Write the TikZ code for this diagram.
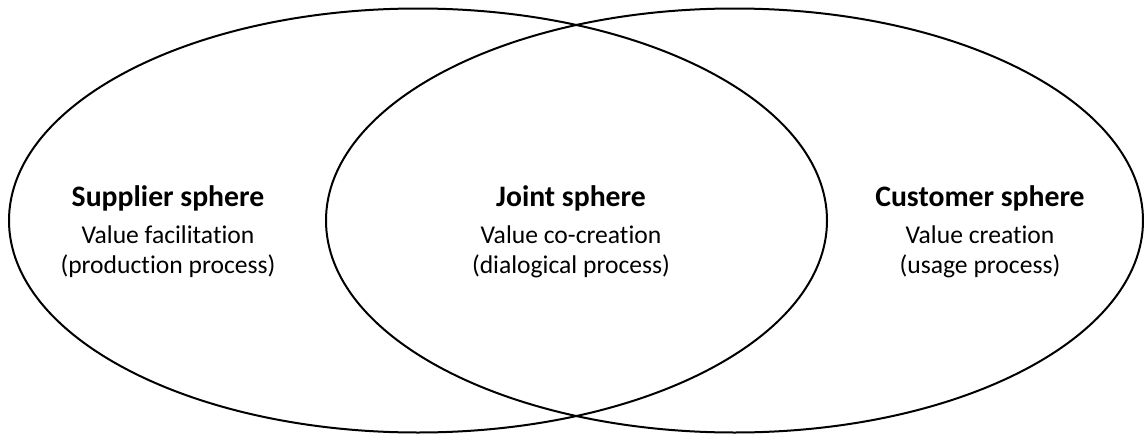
\documentclass[tikz,border=0pt]{standalone}
\usepackage{fontspec}
\setmainfont[Ligatures={NoCommon}]{Carlito}
\begin{document}
\begin{tikzpicture}[x=1pt,y=-1pt,
  ring/.style={draw=black,line width=2pt},
  ttl/.style={anchor=base,font=\fontsize{29.7}{34}\selectfont\bfseries,inner sep=0pt},
  sub/.style={anchor=base,font=\fontsize{25.6}{30}\selectfont,inner sep=0pt}]
\useasboundingbox (0,0) rectangle (1144,434);
\draw[ring] (418,220.5) ellipse [x radius=409, y radius=212];
\draw[ring] (734.5,220.5) ellipse [x radius=408.5, y radius=212];
\node[ttl] (st) at (168,206) {Supplier sphere};
\node[sub] (s1) at (168,243) {Value facilitation};
\node[sub] (s2) at (168,273) {(production process)};
\node[ttl] (jt) at (571,206) {Joint sphere};
\node[sub] (j1) at (571,243) {Value co-creation};
\node[sub] (j2) at (571,273) {(dialogical process)};
\node[ttl] (ct) at (980,206) {Customer sphere};
\node[sub] (c1) at (980,243) {Value creation};
\node[sub] (c2) at (980,273) {(usage process)};
\end{tikzpicture}
\end{document}
